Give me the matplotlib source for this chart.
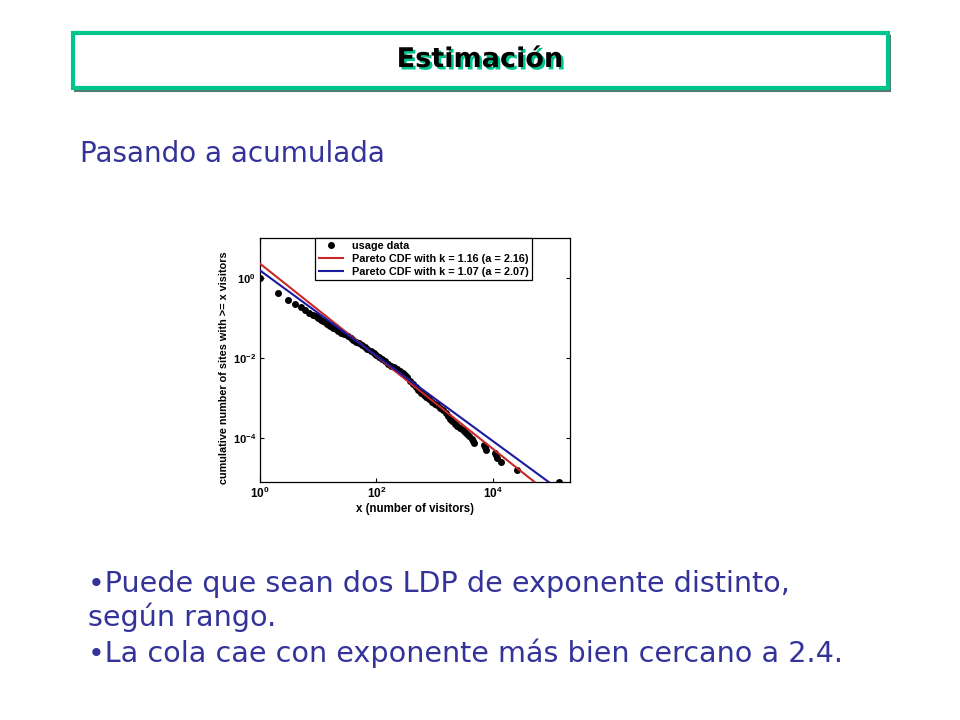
import matplotlib
matplotlib.use('Agg')
import matplotlib.pyplot as plt
from matplotlib.patches import Rectangle
from matplotlib import patheffects

plt.rcParams['font.family'] = ['DejaVu Sans']
plt.rcParams['mathtext.fontset'] = 'custom'
plt.rcParams['mathtext.rm'] = 'Liberation Sans'
plt.rcParams['mathtext.bf'] = 'Liberation Sans:bold'

# usage data (complementary cumulative counts)
usage_x = [1, 2, 3, 4, 5, 6, 7, 8, 9, 10, 11, 12, 13, 14, 15, 16, 18, 20, 22, 25,
           28, 32, 36, 40, 45, 50, 56, 63, 70, 80, 90, 100, 112, 125, 140, 160,
           180, 200, 225, 250, 280, 310, 340, 380, 420, 470, 520, 580, 650, 720,
           800, 900, 1000, 1100, 1250, 1400, 1550, 1700, 1850, 2000, 2200, 2450,
           2700, 3000, 3300, 3600, 3900, 4300, 4600, 4800,
           6900, 7200, 7600, 10700, 11200, 11700, 13800, 25700, 135000]
usage_y = [1.0, 0.42, 0.28, 0.22, 0.185, 0.158, 0.138, 0.123, 0.111, 0.1, 0.092,
           0.085, 0.0785, 0.073, 0.068, 0.0646, 0.0575, 0.0525, 0.049, 0.0437,
           0.0394, 0.035, 0.0316, 0.0288, 0.0257, 0.0234, 0.0211, 0.0186, 0.017,
           0.0151, 0.0133, 0.0117, 0.0105, 0.0093, 0.0083, 0.00716, 0.00646,
           0.00589, 0.00531, 0.00479, 0.00431, 0.0038, 0.00331, 0.00275, 0.00229,
           0.00186, 0.00158, 0.00135, 0.00117, 0.00105, 0.00093, 0.00081, 0.00072,
           0.00066, 0.000575, 0.0005, 0.000417, 0.000355, 0.0003, 0.000263,
           0.000229, 0.0002, 0.000182, 0.000162, 0.000145, 0.000129, 0.000112,
           9.8e-5, 8.7e-5, 7.8e-5,
           6.8e-5, 5.9e-5, 5.1e-5, 4.4e-5, 3.8e-5, 3.3e-5, 2.5e-5, 1.66e-5, 8.1e-6]

# fitted Pareto lines (end points)
fit_x = [1, 2.1e5]
red_y = [2.29, 1.6e-6]
blue_y = [1.55, 3.3e-6]

labels = ['usage data',
          'Pareto CDF with k = 1.16 (a = 2.16)',
          'Pareto CDF with k = 1.07 (a = 2.07)']

x_ticks = [1, 1e2, 1e4]
x_ticklabels = [r'$\mathbf{10^{0}}$', r'$\mathbf{10^{2}}$', r'$\mathbf{10^{4}}$']
y_ticks = [1e-4, 1e-2, 1]
y_ticklabels = [r'$\mathbf{10^{-4}}$', r'$\mathbf{10^{-2}}$', r'$\mathbf{10^{0}}$']

title = 'Estimación'
subtitle = 'Pasando a acumulada'
bullets = ['•Puede que sean dos LDP de exponente distinto,',
           'según rango.',
           '•La cola cae con exponente más bien cercano a 2.4.']

text_blue = '#333399'
teal = '#00C48E'

fig = plt.figure(figsize=(9.6, 7.2), dpi=100)
W, H = 960, 720

# title box with a thin shadow
fig.patches.append(Rectangle((74.5 / W, 1 - 91 / H), 815 / W, 55 / H, transform=fig.transFigure,
                             facecolor='none', edgecolor='#557a70', linewidth=1.5, zorder=1))
fig.patches.append(Rectangle((72.7 / W, 1 - 88 / H), 815 / W, 55 / H, transform=fig.transFigure,
                             facecolor='white', edgecolor=teal, linewidth=3, zorder=2))
fig.text(480 / W, 1 - 60 / H, title, ha='center', va='center', fontsize=19.5,
         fontweight='bold', color='black', zorder=4,
         path_effects=[patheffects.withSimplePatchShadow(offset=(1.8, -1.8),
                                                         shadow_rgbFace=teal, alpha=1)])

fig.text(80 / W, 1 - 162 / H, subtitle, ha='left', va='baseline', fontsize=20, color=text_blue)
baselines = [592, 626, 662]
for txt, yb in zip(bullets, baselines):
    fig.text(88 / W, 1 - yb / H, txt, ha='left', va='baseline', fontsize=20.6, color=text_blue)

# the chart
ax = fig.add_axes([260 / W, 1 - 482 / H, 310 / W, 244 / H])
ax.plot(usage_x, usage_y, 'o', color='black', markersize=4, label=labels[0], zorder=3)
ax.plot(fit_x, red_y, color='#C8282A', linewidth=1.5, label=labels[1], zorder=4)
ax.plot(fit_x, blue_y, color='#1A1AA0', linewidth=1.5, label=labels[2], zorder=4)
ax.set_xscale('log')
ax.set_yscale('log')
ax.set_xlim(1, 2.1e5)
ax.set_ylim(8.1e-6, 10)
ax.set_xticks(x_ticks)
ax.set_xticklabels(x_ticklabels, fontsize=8.5)
ax.set_yticks(y_ticks)
ax.set_yticklabels(y_ticklabels, fontsize=8)
ax.minorticks_off()
ax.tick_params(direction='in', length=3, width=0.8, top=True, right=True, pad=3)
for s in ax.spines.values():
    s.set_linewidth(0.9)
ax.set_xlabel('x (number of visitors)', fontsize=8.3, fontweight='bold',
              family='Liberation Sans', labelpad=1)
ax.set_ylabel('cumulative number of sites with >= x visitors', fontsize=7.8,
              fontweight='bold', family='Liberation Sans')
ax.yaxis.set_label_coords(-0.1, 0.47)

leg = ax.legend(loc='upper center', bbox_to_anchor=(0.528, 1.0), borderaxespad=0,
                fancybox=False, edgecolor='black', framealpha=1, handlelength=2.3,
                prop={'family': 'Liberation Sans', 'weight': 'bold', 'size': 7.8},
                borderpad=0.3, labelspacing=0.25, handletextpad=0.8)
leg.get_frame().set_linewidth(0.9)

fig.savefig('out.png', dpi=100)
